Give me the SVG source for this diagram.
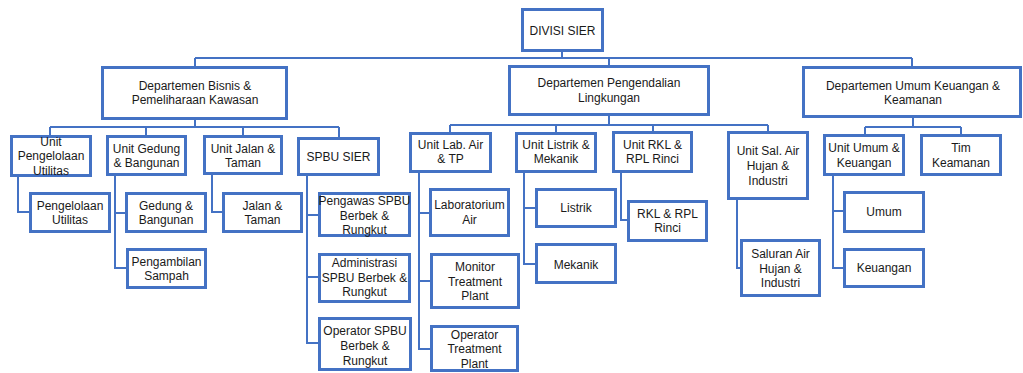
<svg xmlns="http://www.w3.org/2000/svg" width="1023" height="373" viewBox="0 0 1023 373">
<style>
.b{fill:#fff;stroke:#4472C4;stroke-width:3}
.t{font-family:"Liberation Sans",Arial,sans-serif;font-size:12px;fill:#1a1a1a;text-anchor:middle}
.c{fill:none;stroke:#4472C4;stroke-width:2}
</style>
<rect width="1023" height="373" fill="#fff"/>
<g id="connectors" class="c">
<path d="M562,52V58M195,58H912M195,58V66M609,58V65M912,58V66"/>
<path d="M195,120V127M50,127H339M50,127V135M146,127V135M243,127V135M339,127V137"/>
<path d="M609,116V125M450,125H768M450,125V132M556,125V132M653,125V131M768,125V131"/>
<path d="M913,118V127M865,127H961M865,127V134M961,127V134"/>
<path d="M18,177V212H29"/>
<path d="M115,176V268H126M115,213H125"/>
<path d="M212,175V212H222"/>
<path d="M307,176V343H318M307,215H318M307,277H318"/>
<path d="M419,173V349H430M419,213H429M419,281H430"/>
<path d="M524,173V264H535M524,208H535"/>
<path d="M621,173V220H627"/>
<path d="M737,200V268H740"/>
<path d="M833,176V268H843M833,211H843"/>
</g>
<g id="divisi"><rect class="b" x="522.5" y="9.5" width="80" height="41"/><text class="t" x="562.5" y="35">DIVISI SIER</text></g>
<g id="dept-bisnis"><rect class="b" x="102.5" y="67.5" width="184" height="51"/><text class="t" x="195" y="90">Departemen Bisnis &amp;</text><text class="t" x="195" y="104">Pemeliharaan Kawasan</text></g>
<g id="dept-pengendalian"><rect class="b" x="509.5" y="66.5" width="199" height="48"/><text class="t" x="609" y="87">Departemen Pengendalian</text><text class="t" x="609" y="102">Lingkungan</text></g>
<g id="dept-umum"><rect class="b" x="803.5" y="67.5" width="217" height="49"/><text class="t" x="913" y="90">Departemen Umum Keuangan &amp;</text><text class="t" x="913" y="104">Keamanan</text></g>
<g id="unit-pengelolaan"><rect class="b" x="11.5" y="136.5" width="79" height="39"/><text class="t" x="51" y="146">Unit</text><text class="t" x="51" y="160">Pengelolaan</text><text class="t" x="51" y="175">Utilitas</text></g>
<g id="unit-gedung"><rect class="b" x="107.5" y="136.5" width="78" height="38"/><text class="t" x="146.5" y="153">Unit Gedung</text><text class="t" x="146.5" y="167">&amp; Bangunan</text></g>
<g id="unit-jalan"><rect class="b" x="204.5" y="136.5" width="77" height="37"/><text class="t" x="243" y="153">Unit Jalan &amp;</text><text class="t" x="243" y="167">Taman</text></g>
<g id="spbu-sier"><rect class="b" x="298.5" y="138.5" width="80" height="36"/><text class="t" x="338.5" y="161">SPBU SIER</text></g>
<g id="unit-lab"><rect class="b" x="410.5" y="133.5" width="80" height="38"/><text class="t" x="450.5" y="149">Unit Lab. Air</text><text class="t" x="450.5" y="163">&amp; TP</text></g>
<g id="unit-listrik"><rect class="b" x="516.5" y="133.5" width="79" height="38"/><text class="t" x="556" y="149">Unit Listrik &amp;</text><text class="t" x="556" y="163">Mekanik</text></g>
<g id="unit-rkl"><rect class="b" x="613.5" y="132.5" width="78" height="39"/><text class="t" x="652.5" y="149">Unit RKL &amp;</text><text class="t" x="652.5" y="163">RPL Rinci</text></g>
<g id="unit-sal"><rect class="b" x="728.5" y="132.5" width="79" height="66"/><text class="t" x="768" y="155">Unit Sal. Air</text><text class="t" x="768" y="170">Hujan &amp;</text><text class="t" x="768" y="185">Industri</text></g>
<g id="unit-umum"><rect class="b" x="824.5" y="135.5" width="79" height="39"/><text class="t" x="864" y="152">Unit Umum &amp;</text><text class="t" x="864" y="167">Keuangan</text></g>
<g id="tim-keamanan"><rect class="b" x="921.5" y="135.5" width="79" height="39"/><text class="t" x="961" y="152">Tim</text><text class="t" x="961" y="167">Keamanan</text></g>
<g id="pengelolaan-utilitas"><rect class="b" x="30.5" y="193.5" width="79" height="38"/><text class="t" x="70" y="210">Pengelolaan</text><text class="t" x="70" y="224">Utilitas</text></g>
<g id="gedung-bangunan"><rect class="b" x="126.5" y="193.5" width="79" height="38"/><text class="t" x="166" y="210">Gedung &amp;</text><text class="t" x="166" y="224">Bangunan</text></g>
<g id="pengambilan-sampah"><rect class="b" x="127.5" y="249.5" width="78" height="38"/><text class="t" x="166.5" y="266">Pengambilan</text><text class="t" x="166.5" y="280">Sampah</text></g>
<g id="jalan-taman"><rect class="b" x="223.5" y="193.5" width="78" height="38"/><text class="t" x="262.5" y="210">Jalan &amp;</text><text class="t" x="262.5" y="224">Taman</text></g>
<g id="pengawas-spbu"><rect class="b" x="319.5" y="193.5" width="90" height="42"/><text class="t" x="364.5" y="205">Pengawas SPBU</text><text class="t" x="364.5" y="220">Berbek &amp;</text><text class="t" x="364.5" y="234">Rungkut</text></g>
<g id="administrasi-spbu"><rect class="b" x="319.5" y="254.5" width="90" height="47"/><text class="t" x="364.5" y="267">Administrasi</text><text class="t" x="364.5" y="282">SPBU Berbek &amp;</text><text class="t" x="364.5" y="296">Rungkut</text></g>
<g id="operator-spbu"><rect class="b" x="319.5" y="318.5" width="91" height="51"/><text class="t" x="365" y="335">Operator SPBU</text><text class="t" x="365" y="350">Berbek &amp;</text><text class="t" x="365" y="365">Rungkut</text></g>
<g id="laboratorium-air"><rect class="b" x="430.5" y="189.5" width="78" height="46"/><text class="t" x="469.5" y="209">Laboratorium</text><text class="t" x="469.5" y="224">Air</text></g>
<g id="monitor-tp"><rect class="b" x="431.5" y="254.5" width="87" height="53"/><text class="t" x="475" y="271">Monitor</text><text class="t" x="475" y="286">Treatment</text><text class="t" x="475" y="300">Plant</text></g>
<g id="operator-tp"><rect class="b" x="431.5" y="326.5" width="86" height="44"/><text class="t" x="474.5" y="339">Operator</text><text class="t" x="474.5" y="353">Treatment</text><text class="t" x="474.5" y="368">Plant</text></g>
<g id="listrik"><rect class="b" x="536.5" y="189.5" width="79" height="37"/><text class="t" x="576" y="212">Listrik</text></g>
<g id="mekanik"><rect class="b" x="536.5" y="244.5" width="79" height="38"/><text class="t" x="576" y="269">Mekanik</text></g>
<g id="rkl-rpl"><rect class="b" x="628.5" y="201.5" width="78" height="39"/><text class="t" x="667.5" y="218">RKL &amp; RPL</text><text class="t" x="667.5" y="232">Rinci</text></g>
<g id="saluran-air"><rect class="b" x="741.5" y="240.5" width="78" height="55"/><text class="t" x="780.5" y="258">Saluran Air</text><text class="t" x="780.5" y="273">Hujan &amp;</text><text class="t" x="780.5" y="287">Industri</text></g>
<g id="umum"><rect class="b" x="844.5" y="192.5" width="79" height="39"/><text class="t" x="884" y="216">Umum</text></g>
<g id="keuangan"><rect class="b" x="844.5" y="249.5" width="79" height="37"/><text class="t" x="884" y="272">Keuangan</text></g>
</svg>
